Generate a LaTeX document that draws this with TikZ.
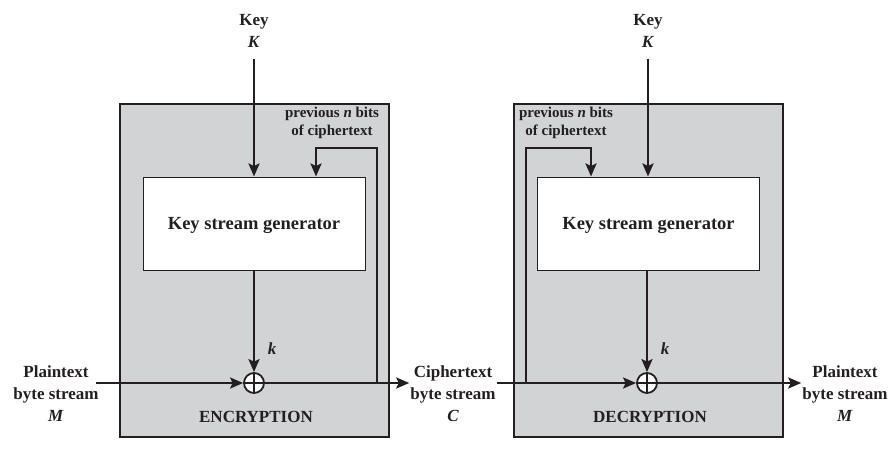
\documentclass[tikz,border=0pt]{standalone}
\usepackage{fontspec}
\setmainfont{Liberation Serif}
\usetikzlibrary{arrows.meta,calc}
\definecolor{ink}{HTML}{231F20}
\definecolor{panel}{HTML}{D1D3D4}
\begin{document}
\begin{tikzpicture}[x=1pt,y=-1pt,
  every node/.style={text=ink,font=\bfseries},
  panelbox/.style={draw=ink,line width=1.3pt,fill=panel,minimum width=269pt,minimum height=333pt,inner sep=0pt},
  genbox/.style={draw=ink,line width=1pt,fill=white,minimum width=222pt,minimum height=93pt,inner sep=0pt,text depth=0pt,font=\fontsize{18.5}{22}\selectfont\bfseries},
  lbl/.style={align=center,inner sep=1pt,font=\fontsize{17}{22}\selectfont\bfseries},
  small/.style={align=center,inner sep=0pt,font=\fontsize{15}{18}\selectfont\bfseries},
  xorc/.style={circle,draw=ink,line width=1.8pt,fill=white,minimum size=20pt,inner sep=0pt},
  arr/.style={draw=ink,line width=2.4pt,-{Stealth[length=13pt,width=11pt,inset=2.5pt]}},
  ln/.style={draw=ink,line width=2.4pt}
]
\useasboundingbox (0,0) rectangle (894,466);
% panels
\node[panelbox] (encp) at (254.5,270.5) {};
\node[panelbox] (decp) at (648.5,270.5) {};
% generators
\node[genbox] (gen1) at (254,223.5) {Key stream generator};
\node[genbox] (gen2) at (648.5,223.5) {Key stream generator};
% xors
\node[xorc] (x1) at (254,383) {};
\node[xorc] (x2) at (647,383) {};
\draw[ink,line width=1.8pt] (x1.north) -- (x1.south) (x1.west) -- (x1.east);
\draw[ink,line width=1.8pt] (x2.north) -- (x2.south) (x2.west) -- (x2.east);
% keys
\node[lbl] (key1) at (254,31) {Key\\\textit{K}};
\node[lbl] (key2) at (648,31) {Key\\\textit{K}};
\coordinate (k1s) at ($(key1.south)+(0,10)$);
\coordinate (k2s) at ($(key2.south)+(0,10)$);
\draw[arr] (k1s) -- (k1s |- gen1.north);
\draw[arr] (k2s) -- (k2s |- gen2.north);
% k arrows
\draw[arr] (gen1.south -| x1) -- (x1.north);
\draw[arr] (gen2.south -| x2) -- (x2.north);
\node[lbl] (kl1) at (272,349) {\textit{k}};
\node[lbl] (kl2) at (665,349) {\textit{k}};
% labels
\node[lbl] (ptin) at (56,394) {Plaintext\\byte stream\\\textit{M}};
\node[lbl] (ct) at (453,394) {Ciphertext\\byte stream\\\textit{C}};
\node[lbl] (ptout) at (845,394) {Plaintext\\byte stream\\\textit{M}};
\node[lbl] (encl) at (256,417) {ENCRYPTION};
\node[lbl] (decl) at (650,417) {DECRYPTION};
\node[small] (pn1) at (332,123) {previous \textit{n} bits\\of ciphertext};
\node[small] (pn2) at (566,123) {previous \textit{n} bits\\of ciphertext};
% data flow
\draw[arr] ([xshift=-4pt]ptin.east |- x1) -- (x1.west);
\draw[arr] (x1.east) -- (ct.west |- x1);
\draw[arr] (ct.east |- x2) -- (x2.west);
\draw[arr] (x2.east) -- (ptout.west |- x2);
% feedback
\coordinate (f1) at (377,383);
\coordinate (f2) at (526,383);
\draw[arr] (f1) -- (377,148) -- (316,148) -- (316,148 |- gen1.north);
\draw[arr] (f2) -- (526,148) -- (591,148) -- (591,148 |- gen2.north);
\end{tikzpicture}
\end{document}
